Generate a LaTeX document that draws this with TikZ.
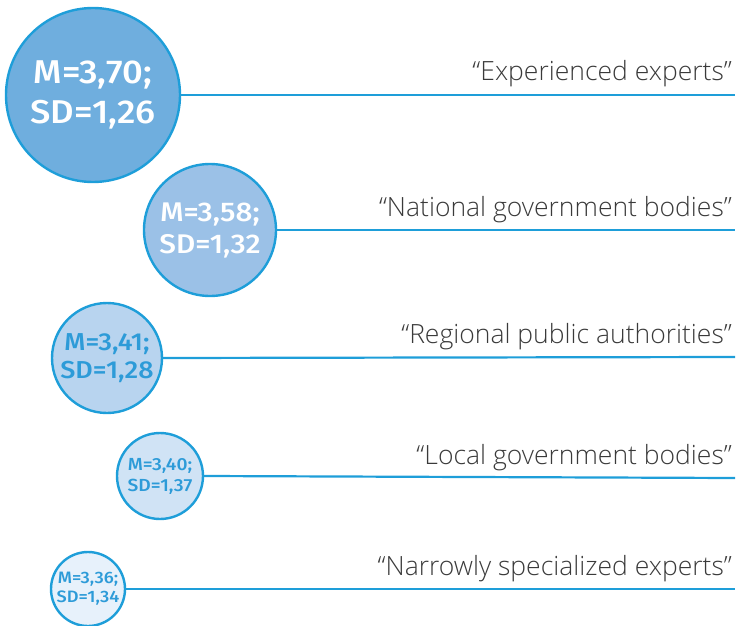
\documentclass[tikz,border=0pt]{standalone}
\usepackage{fontspec}
\setmainfont{Open Sans}
\newfontfamily\numfont{Fira Sans}[UprightFont={* Medium},FakeStretch=1.1]
\newfontfamily\lblfont{Open Sans}[UprightFont={* Light}]
\definecolor{edgeblue}{HTML}{1E9ED9}
\definecolor{fillA}{HTML}{6FAEDE}
\definecolor{fillB}{HTML}{9BC1E7}
\definecolor{fillC}{HTML}{B8D4EF}
\definecolor{fillD}{HTML}{D0E3F5}
\definecolor{fillE}{HTML}{E7F1FB}
\definecolor{txtgray}{HTML}{3A3A3A}
\definecolor{numblue}{HTML}{2D9BD8}
\begin{document}
\begin{tikzpicture}[x=1pt,y=-1pt,
  bubble/.style={circle,draw=edgeblue,line width=2.4pt,inner sep=0pt,align=center},
  lbl/.style={anchor=base east,inner sep=0pt,text=txtgray,font=\lblfont\fontsize{26.5}{30}\selectfont},
  rule/.style={draw=edgeblue,line width=2.2pt}]
\useasboundingbox (0,0) rectangle (737,626);
% circles
\node[bubble,fill=fillA,minimum size=174pt,text=white,font=\numfont\fontsize{33}{40}\selectfont] (c1) at (93,95) {M=3,70;\\SD=1,26};
\node[bubble,fill=fillB,minimum size=132pt,text=white,font=\numfont\fontsize{27}{32}\selectfont] (c2) at (210,230) {M=3,58;\\SD=1,32};
\node[bubble,fill=fillC,minimum size=110pt,text=numblue,font=\numfont\fontsize{24.5}{28}\selectfont] (c3) at (107,358) {M=3,41;\\SD=1,28};
\node[bubble,fill=fillD,minimum size=86pt,text=numblue,font=\numfont\fontsize{17.5}{21}\selectfont] (c4) at (160,476) {M=3,40;\\SD=1,37};
\node[bubble,fill=fillE,minimum size=74pt,text=numblue,font=\numfont\fontsize{16.5}{19}\selectfont] (c5) at (88,589) {M=3,36;\\SD=1,34};
% line end points
\coordinate (e1) at (735,95);
\coordinate (e2) at (735,230);
\coordinate (e3) at (735,357);
\coordinate (e4) at (735,478);
\coordinate (e5) at (735,589);
\draw[rule] (c1.east) -- (e1);
\draw[rule] (c2.east) -- (e2);
\draw[rule] (c3.east) -- (e3);
\draw[rule] (c4.east) -- (e4);
\draw[rule] (c5.east) -- (e5);
% labels
\node[lbl] (l1) at (732,81) {“Experienced experts”};
\node[lbl] (l2) at (732,216) {“National government bodies”};
\node[lbl] (l3) at (732,343) {“Regional public authorities”};
\node[lbl] (l4) at (732,464) {“Local government bodies”};
\node[lbl] (l5) at (732,575) {“Narrowly specialized experts”};
\end{tikzpicture}
\end{document}
